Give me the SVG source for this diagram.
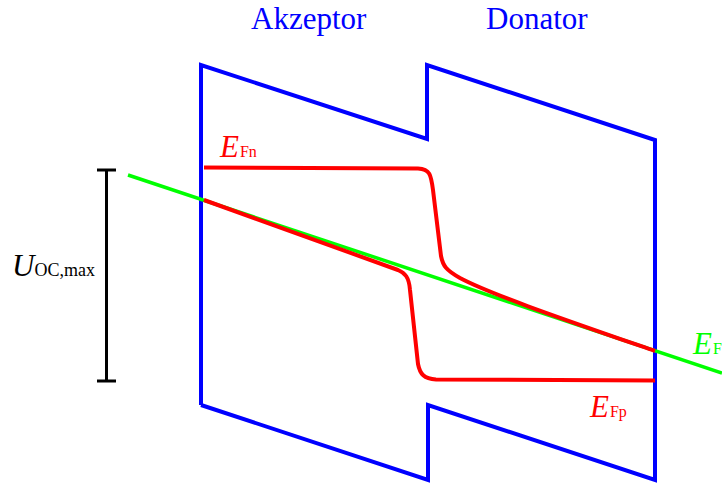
<svg xmlns="http://www.w3.org/2000/svg" width="722" height="483" viewBox="0 0 722 483">
<style>
.band{fill:none;stroke:#0000ff;stroke-width:4;stroke-linejoin:miter}
.quasi{fill:none;stroke:#ff0000;stroke-width:4;stroke-linejoin:round}
.fermi{fill:none;stroke:#00ff00;stroke-width:3.5}
.bar{fill:none;stroke:#000;stroke-width:3}
.title{font-size:31px;fill:#0000ff}
.lab{font-size:31px;font-style:italic}
.sub{font-size:16px;font-style:normal}
.subu{font-size:18px;font-style:normal}
</style>
<rect width="722" height="483" fill="#fff"/>
<g id="akzeptor-label"><text class="title" x="251" y="29" font-family="'Liberation Serif', serif">Akzeptor</text></g>
<g id="donator-label"><text class="title" x="486" y="29" font-family="'Liberation Serif', serif">Donator</text></g>
<g id="bands">
<path class="band" d="M201,405 L201,65 L427,139 L427,65 L655,140 L655,480 L428,405 L428,480 L201,405"/>
</g>
<g id="connectors">
<line class="fermi" x1="128" y1="175" x2="722" y2="373"/>
<path class="quasi" d="M204,167.5 L418,168.5 C430,169 431,175 433,190 L441,256 C443,266 446,270 460,278 C490,294 560,318 655,351"/>
<path class="quasi" d="M204,200 L398,270 C405,273 409,277 410,290 L418,364 C420,374 424,379 436,379.5 L655,380.5"/>
</g>
<g id="uoc-bar">
<line class="bar" x1="106.5" y1="170" x2="106.5" y2="381"/>
<line class="bar" x1="97" y1="170" x2="116" y2="170"/>
<line class="bar" x1="97" y1="381" x2="116" y2="381"/>
</g>
<g id="efn-label"><text class="lab" x="220" y="157" fill="#ff0000" font-family="'Liberation Serif', serif">E<tspan class="sub" dx="1">Fn</tspan></text></g>
<g id="efp-label"><text class="lab" x="590" y="417" fill="#ff0000" font-family="'Liberation Serif', serif">E<tspan class="sub" dx="1">Fp</tspan></text></g>
<g id="ef-label"><text class="lab" x="693" y="354" fill="#00ff00" font-family="'Liberation Serif', serif">E<tspan class="sub" dx="1">F</tspan></text></g>
<g id="uoc-label"><text class="lab" x="12" y="276" fill="#000" font-family="'Liberation Serif', serif">U<tspan class="subu">OC,max</tspan></text></g>
</svg>
